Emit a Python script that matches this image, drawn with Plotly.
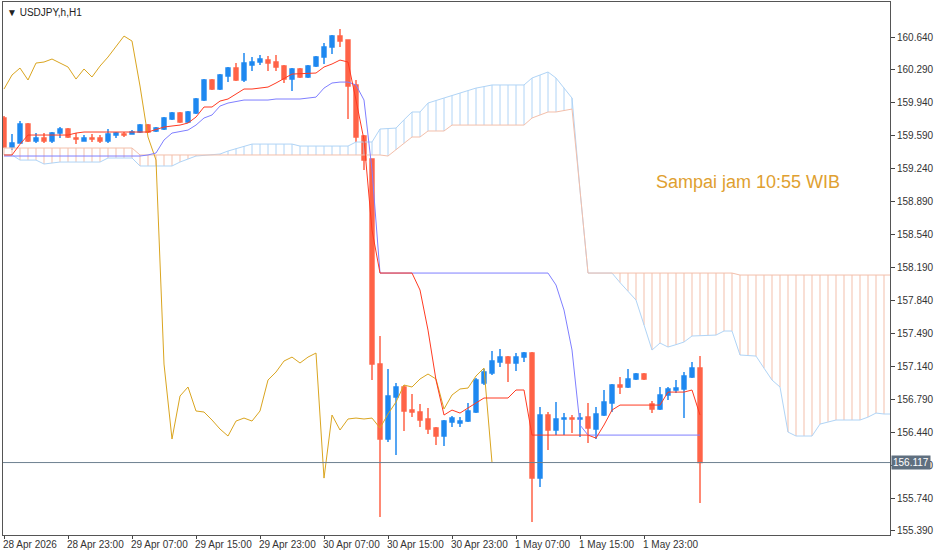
import plotly.graph_objects as go

opens = [159.779,159.471,159.513,159.715,159.534,159.566,159.534,159.619,159.662,159.566,
159.534,159.566,159.566,159.534,159.598,159.609,159.609,159.630,159.704,159.641,
159.662,159.768,159.832,159.736,159.832,159.970,160.183,160.087,160.225,160.310,
160.183,160.342,160.374,160.395,160.374,160.331,160.193,160.300,160.215,160.331,
160.427,160.533,160.650,160.608,160.130,159.587,159.343,157.164,156.367,156.813,
156.920,156.675,156.654,156.580,156.484,156.399,156.548,156.537,156.558,156.654,
156.962,157.068,157.185,157.238,157.175,157.238,157.281,155.952,156.622,156.463,
156.580,156.590,156.580,156.601,156.473,156.622,156.750,156.941,156.920,157.005,
157.058,156.739,156.686,156.835,156.888,156.899,157.026,157.122]
highs = [159.800,159.609,159.747,159.725,159.619,159.619,159.630,159.683,159.672,159.619,
159.598,159.609,159.598,159.662,159.630,159.630,159.651,159.715,159.715,159.683,
159.790,159.843,159.843,159.853,159.991,160.193,160.193,160.246,160.321,160.363,
160.470,160.427,160.448,160.438,160.448,160.342,160.310,160.310,160.342,160.438,
160.576,160.661,160.725,160.608,160.183,159.598,159.343,157.462,157.111,156.962,
156.941,156.845,156.739,156.697,156.494,156.569,156.611,156.601,156.750,157.015,
157.111,157.302,157.323,157.249,157.281,157.292,157.292,156.707,156.654,156.760,
156.643,156.622,156.643,156.750,156.707,156.888,156.951,157.026,157.111,157.068,
157.068,156.771,156.920,156.920,156.994,157.079,157.185,157.249]
lows = [159.471,159.439,159.513,159.524,159.513,159.513,159.513,159.566,159.566,159.502,
159.534,159.524,159.513,159.513,159.566,159.577,159.609,159.619,159.619,159.630,
159.651,159.757,159.725,159.725,159.821,159.960,160.077,160.077,160.161,160.172,
160.161,160.278,160.342,160.278,160.278,160.151,160.066,160.204,160.204,160.321,
160.353,160.459,160.533,159.768,159.524,159.226,156.994,155.538,156.335,156.197,
156.452,156.601,156.494,156.420,156.303,156.293,156.494,156.494,156.548,156.643,
156.941,157.047,157.132,156.973,157.090,157.185,155.484,155.856,156.250,156.409,
156.409,156.431,156.388,156.324,156.367,156.611,156.654,156.845,156.909,156.994,
156.994,156.643,156.675,156.781,156.856,156.590,157.015,155.686]
closes = [159.471,159.513,159.715,159.534,159.566,159.534,159.619,159.662,159.577,159.556,
159.566,159.556,159.534,159.609,159.619,159.598,159.630,159.704,159.630,159.672,
159.779,159.832,159.736,159.843,159.981,160.183,160.087,160.236,160.310,160.183,
160.363,160.374,160.406,160.363,160.321,160.193,160.300,160.215,160.331,160.427,
160.533,160.650,160.597,160.119,159.577,159.332,157.164,156.367,156.824,156.920,
156.665,156.654,156.569,156.473,156.399,156.558,156.590,156.558,156.665,156.994,
157.079,157.196,157.238,157.175,157.238,157.281,155.952,156.622,156.463,156.580,
156.590,156.580,156.590,156.484,156.633,156.760,156.941,156.920,157.005,157.058,
157.005,156.686,156.835,156.899,156.909,157.037,157.122,156.117]

tenkan = [159.386,159.386,159.500,159.598,159.598,159.598,159.598,159.598,159.598,159.619,
159.630,159.630,159.630,159.630,159.630,159.630,159.630,159.630,159.630,
159.657,159.683,159.694,159.704,159.726,159.789,159.896,159.896,159.959,159.981,160.034,
160.087,160.087,160.098,160.108,160.151,160.200,160.246,160.250,160.254,160.257,160.321,
160.353,160.395,160.374,159.970,159.545,158.588,
158.131,158.131,158.131,158.131,158.131,
157.951,157.525,156.994,156.622,156.675,156.643,156.697,156.750,
156.803,156.803,156.803,156.803,156.888,156.888,
156.409,156.409,156.409,156.409,156.409,156.409,156.409,156.409,
156.377,156.516,156.675,156.728,156.728,156.728,156.728,156.728,156.728,
156.866,156.866,156.866,156.888,156.622]
kijun = [159.375]*18 + [159.386,159.407,159.545,159.619,159.635,159.651,159.704,159.779,159.811,159.906,159.938,159.954,
159.970,159.970,159.970,159.970,159.981,159.981,159.981,159.981,
159.991,160.001,160.097,160.151,160.161,160.161,160.130,159.970,159.226] + [158.131]*22 + \
[158.004,157.738,157.313,156.516] + [156.409]*15
span_a = [159.460]*17 + [159.386]*31 + [159.375,159.439,159.510,159.577,159.577,159.641,159.641,159.641,159.704] + \
[159.704]*9 + [159.779,159.811,159.843,159.843,159.860,159.874,159.013] + [158.131]*19 + [158.110]*22
span_b = [159.386,159.386,159.332,159.332,159.332,159.290,159.300,159.311] + [159.311]*5 + [159.354]*4 + [159.269]*5 + \
[159.311,159.343,159.375,159.382,159.390,159.396,159.428,159.455,159.481] + [159.502]*6 + [159.481]*7 + \
[159.524,159.524,159.524,159.662,159.667,159.672,159.760,159.843,159.843,159.938,159.965,159.991,160.018,160.044,160.070,160.097,160.113] + \
[160.130]*5 + [160.204,160.236,160.268,160.204,160.100,159.991,159.013] + [158.131]*4 + \
[158.030,157.940,157.844,157.580,157.313,157.387,157.345,157.370,157.398,157.462,157.466,157.470,157.472,157.515,157.515] + \
[157.260,157.255,157.249,157.120,156.994,156.920,156.441,156.399,156.399,156.399,156.526,156.550,156.569,156.569,156.569,156.569,156.600,156.643] + \
[156.633]*4

xlabels = ["28 Apr 2026","28 Apr 23:00","29 Apr 07:00","29 Apr 15:00","29 Apr 23:00","30 Apr 07:00",
           "30 Apr 15:00","30 Apr 23:00","1 May 07:00","1 May 15:00","1 May 23:00"]
xlabel_pos = [0,8,16,24,32,40,48,56,64,72,80]
yticks = [155.390,155.740,156.090,156.440,156.790,157.140,157.490,157.840,158.190,158.540,
          158.890,159.240,159.590,159.940,160.290,160.640]
last_price = 156.117
symbol = "USDJPY,h,H1"
note = "Sampai jam 10:55 WIB"

n = len(closes)
idx = list(range(n))
cidx = list(range(len(span_a)))
chikou = closes[26:]

BLUE = "#1E88F0"; RED = "#FF6347"
SALMON = "#F3BFAB"; LBLUE = "#B0D4F6"

fig = go.Figure()
hxa, hya, hxb, hyb = [], [], [], []
for i in cidx:
    if span_a[i] >= span_b[i]:
        hxa += [i, i, None]; hya += [span_a[i], span_b[i], None]
    else:
        hxb += [i, i, None]; hyb += [span_a[i], span_b[i], None]
fig.add_trace(go.Scatter(x=hxa, y=hya, mode="lines", line=dict(color=SALMON, width=1), hoverinfo="skip"))
fig.add_trace(go.Scatter(x=hxb, y=hyb, mode="lines", line=dict(color=LBLUE, width=1), hoverinfo="skip"))
fig.add_trace(go.Scatter(x=cidx, y=span_b, mode="lines", line=dict(color=LBLUE, width=1)))
fig.add_trace(go.Scatter(x=cidx, y=span_a, mode="lines", line=dict(color=SALMON, width=1)))
fig.add_trace(go.Scatter(x=list(range(len(chikou))), y=chikou, mode="lines", line=dict(color="#DAA520", width=1)))
fig.add_trace(go.Scatter(x=idx, y=kijun, mode="lines", line=dict(color="#7F7FFF", width=1)))
fig.add_trace(go.Scatter(x=idx, y=tenkan, mode="lines", line=dict(color="#FF3B22", width=1)))
fig.add_trace(go.Candlestick(x=idx, open=opens, high=highs, low=lows, close=closes,
    increasing=dict(line=dict(color=BLUE, width=1.5), fillcolor=BLUE),
    decreasing=dict(line=dict(color=RED, width=1.5), fillcolor=RED), whiskerwidth=0))

fig.add_hline(y=last_price, line=dict(color="#6E8090", width=1))

FONT = "Liberation Sans"
ann = []
for p, t in zip(xlabel_pos, xlabels):
    ann.append(dict(x=p, y=0, xref="x", yref="paper", yanchor="top", xanchor="left", text=t,
                    showarrow=False, xshift=-3, yshift=-2, font=dict(family=FONT, size=10, color="#333")))
ann.append(dict(x=1, y=last_price, xref="paper", yref="y", xanchor="left", text=f"{last_price:.3f}",
                showarrow=False, bgcolor="#5F6F7F", font=dict(family=FONT, size=10, color="white"),
                xshift=1, borderpad=1))
ann.append(dict(x=0, y=1, xref="paper", yref="paper", xanchor="left", yanchor="top", text="▼ " + symbol,
                showarrow=False, xshift=2, yshift=-3, font=dict(family=FONT, size=10, color="#222")))
ann.append(dict(x=0.84, y=159.1, xref="paper", yref="y", xanchor="center", text=note, showarrow=False,
                font=dict(family=FONT, size=18, color="#E0A030")))

fig.update_layout(width=939, height=555, margin=dict(l=3, r=49, t=2, b=20, autoexpand=False),
    paper_bgcolor="white", plot_bgcolor="white", showlegend=False, annotations=ann,
    xaxis=dict(range=[-0.125, 110.75], rangeslider=dict(visible=False), showgrid=False, zeroline=False,
               tickvals=xlabel_pos, ticktext=[""]*len(xlabel_pos), ticks="outside", ticklen=3,
               tickcolor="#444", showline=True, linecolor="#555", mirror=True),
    yaxis=dict(range=[155.347, 161.012], side="right", showgrid=False, zeroline=False,
               tickvals=yticks, ticktext=[f"{v:.3f}" for v in yticks], ticks="outside", ticklen=4,
               tickcolor="#444", showline=True, linecolor="#555", mirror=True,
               tickfont=dict(family=FONT, size=10, color="#333")))
fig.write_html("out.html", config={"displayModeBar": False})

with open("out.html", encoding="utf-8") as f:
    html = f.read()
html = html.replace("<head>", "<head><style>html,body{margin:0;padding:0;overflow:hidden;}</style>", 1)
with open("out.html", "w", encoding="utf-8") as f:
    f.write(html)
